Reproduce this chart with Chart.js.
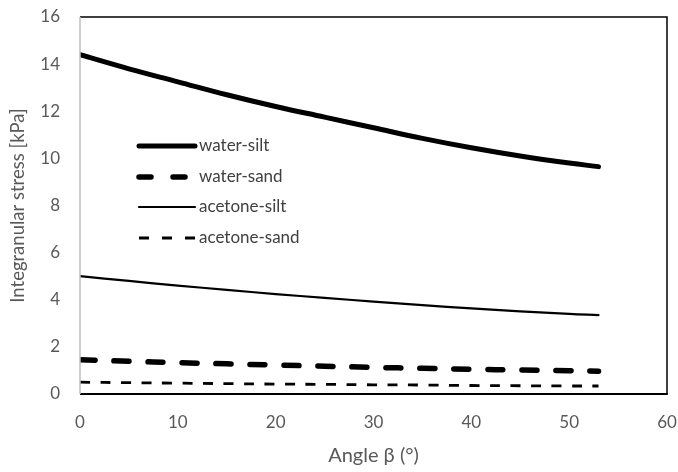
<!DOCTYPE html>
<html>
<head>
<meta charset="utf-8">
<script src="https://cdn.jsdelivr.net/npm/chart.js@4"></script>
<style>
  html, body { margin: 0; padding: 0; background: #fff; }
  #wrap { width: 678px; height: 472px; }
</style>
</head>
<body>
<div id="wrap"><canvas id="grafico" width="678" height="472"></canvas></div>
<script>
// dados
var angulos = [0, 5, 10, 15, 20, 25, 30, 35, 40, 45, 50, 53];
var waterSilt = [14.4, 13.8, 13.25, 12.7, 12.2, 11.75, 11.3, 10.85, 10.45, 10.1, 9.8, 9.65];
var waterSand = [1.45, 1.39, 1.33, 1.28, 1.23, 1.18, 1.13, 1.09, 1.05, 1.02, 0.99, 0.97];
var acetoneSilt = [5.0, 4.8, 4.6, 4.42, 4.24, 4.08, 3.92, 3.77, 3.63, 3.51, 3.4, 3.35];
var acetoneSand = [0.5, 0.48, 0.46, 0.44, 0.42, 0.41, 0.39, 0.38, 0.36, 0.35, 0.34, 0.34];
var xTicks = [0, 10, 20, 30, 40, 50, 60];
var yTicks = [0, 2, 4, 6, 8, 10, 12, 14, 16];

function pontos(ys) {
  return angulos.map(function (a, i) { return { x: a, y: ys[i] }; });
}

var fonte = "Lato, 'Open Sans', sans-serif";

// moldura do grafico
var moldura = {
  id: 'moldura',
  afterDatasetsDraw: function (chart) {
    var c = chart.ctx, a = chart.chartArea;
    c.save();
    c.strokeStyle = '#000';
    c.lineWidth = 1.5;
    c.beginPath();
    c.moveTo(a.left, a.top);
    c.lineTo(a.right, a.top);
    c.lineTo(a.right, a.bottom);
    c.stroke();
    c.lineWidth = 2;
    c.beginPath();
    c.moveTo(a.left, a.bottom);
    c.lineTo(a.right + 0.75, a.bottom);
    c.stroke();
    c.strokeStyle = '#bfbfbf';
    c.lineWidth = 1.5;
    c.beginPath();
    c.moveTo(a.left, a.top);
    c.lineTo(a.left, a.bottom);
    c.stroke();
    c.restore();
  }
};

// legenda dentro da area
var legenda = {
  id: 'legenda',
  afterDraw: function (chart) {
    var c = chart.ctx;
    var ys = [146, 177, 207, 238];
    c.save();
    chart.data.datasets.forEach(function (ds, i) {
      c.strokeStyle = ds.borderColor;
      c.lineWidth = ds.borderWidth;
      c.lineCap = ds.borderCapStyle || 'butt';
      c.setLineDash(ds.legendDash || []);
      c.beginPath();
      c.moveTo(139, ys[i]);
      c.lineTo(195, ys[i]);
      c.stroke();
      c.setLineDash([]);
      c.fillStyle = '#404040';
      c.font = '17px ' + fonte;
      c.textBaseline = 'middle';
      c.fillText(ds.label, 199, ys[i]);
    });
    c.restore();
  }
};

var ctx = document.getElementById('grafico');

var meuGrafico = new Chart(ctx, {
  type: 'line',
  data: {
    datasets: [
      {
        label: 'water-silt',
        data: pontos(waterSilt),
        borderWidth: 5,
        borderColor: '#000',
        borderCapStyle: 'round',
        pointRadius: 0,
        tension: 0.4
      },
      {
        label: 'water-sand',
        data: pontos(waterSand),
        borderWidth: 5.5,
        borderColor: '#000',
        borderCapStyle: 'round',
        borderDash: [15, 19],
        legendDash: [12, 22],
        pointRadius: 0,
        tension: 0.4
      },
      {
        label: 'acetone-silt',
        data: pontos(acetoneSilt),
        borderWidth: 2.2,
        borderColor: '#000',
        borderCapStyle: 'round',
        pointRadius: 0,
        tension: 0.4
      },
      {
        label: 'acetone-sand',
        data: pontos(acetoneSand),
        borderWidth: 2.8,
        borderColor: '#000',
        borderDash: [10, 10.5],
        legendDash: [10, 13],
        pointRadius: 0,
        tension: 0.4
      }
    ]
  },
  options: {
    responsive: false,
    animation: false,
    layout: { padding: { left: 0, right: 11, top: 17, bottom: 0 } },
    plugins: {
      legend: { display: false },
      tooltip: { enabled: false }
    },
    scales: {
      x: {
        type: 'linear',
        min: 0,
        max: 60,
        afterBuildTicks: function (s) { s.ticks = xTicks.map(function (v) { return { value: v }; }); },
        afterFit: function (s) { s.height = 78; s.paddingLeft = 0; s.paddingRight = 0; },
        grid: { display: false, drawTicks: false },
        border: { display: false },
        ticks: { color: '#595959', font: { size: 17, family: fonte }, padding: 18, maxRotation: 0 },
        title: { display: true, text: 'Angle β (°)', color: '#595959', font: { size: 20, family: fonte }, padding: { top: 12 } }
      },
      y: {
        min: 0,
        max: 16,
        afterBuildTicks: function (s) { s.ticks = yTicks.map(function (v) { return { value: v }; }); },
        afterFit: function (s) { s.width = 80; s.paddingTop = 0; s.paddingBottom = 0; },
        grid: { display: false, drawTicks: false },
        border: { display: false },
        ticks: { color: '#595959', font: { size: 17, family: fonte }, padding: 20 },
        title: { display: true, text: 'Integranular stress [kPa]', color: '#595959', font: { size: 18.5, family: fonte }, padding: { top: 7, bottom: 0 } }
      }
    }
  },
  plugins: [moldura, legenda]
});
</script>
</body>
</html>
